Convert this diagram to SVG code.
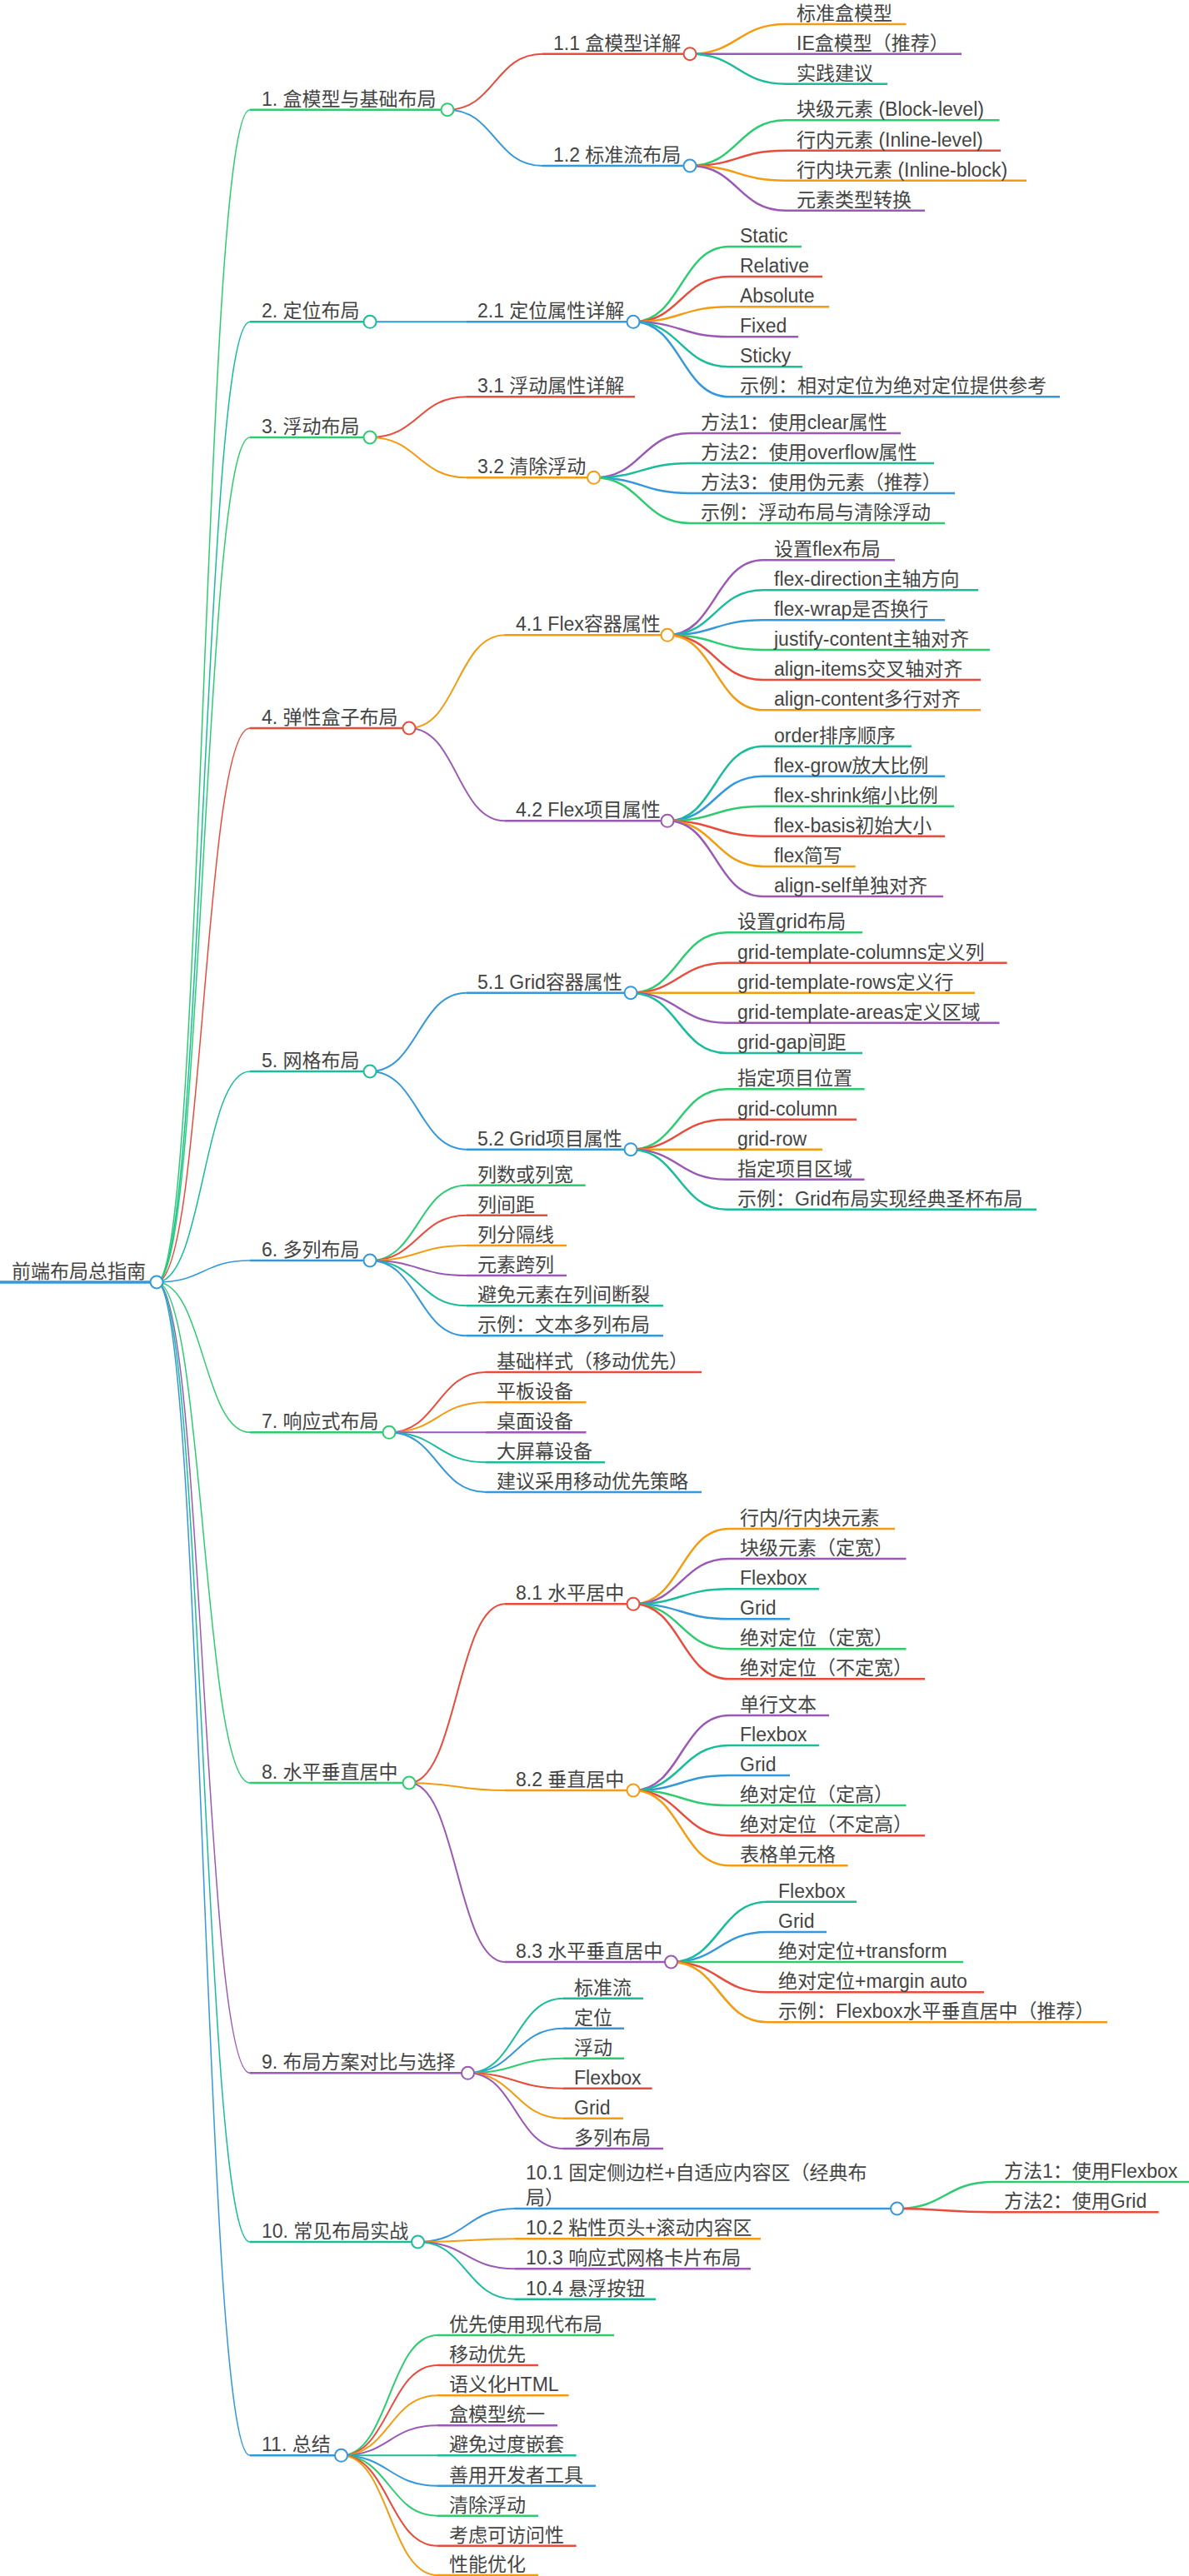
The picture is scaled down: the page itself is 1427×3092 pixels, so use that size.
<svg xmlns="http://www.w3.org/2000/svg" width="1427" height="3092" viewBox="0 0 1427 3092">
<style>
.t{font-family:"Liberation Sans","Noto Sans CJK SC",sans-serif;font-size:23px;fill:#444}
.u{fill:none;stroke-width:2.5}
.c{fill:#fff;stroke-width:2}
.k1 path{fill:none;stroke-width:1.5}
.k2 path{fill:none;stroke-width:2}
.k3 path{fill:none;stroke-width:2.5}
.g{stroke:#2ecc71}.r{stroke:#e74c3c}.b{stroke:#3498db}.o{stroke:#f39c12}.p{stroke:#9b59b6}.q{stroke:#1abc9c}
</style>
<g id="connectors">
<g class="k1">
<path class="g" d="M188,1539 C244,1539 244,131.7 300,131.7"/>
<path class="q" d="M188,1539 C244,1539 244,386.3 300,386.3"/>
<path class="g" d="M188,1539 C244,1539 244,525 300,525"/>
<path class="r" d="M188,1539 C244,1539 244,874 300,874"/>
<path class="q" d="M188,1539 C244,1539 244,1286 300,1286"/>
<path class="b" d="M188,1539 C244,1539 244,1513 300,1513"/>
<path class="g" d="M188,1539 C244,1539 244,1719.3 300,1719.3"/>
<path class="g" d="M188,1539 C244,1539 244,2140 300,2140"/>
<path class="p" d="M188,1539 C244,1539 244,2488.3 300,2488.3"/>
<path class="q" d="M188,1539 C244,1539 244,2691 300,2691"/>
<path class="b" d="M188,1539 C244,1539 244,2947.3 300,2947.3"/>
</g>
<g class="k2">
<path class="r" d="M537,131.7 C594,131.7 594,64.7 651,64.7"/>
<path class="b" d="M537,131.7 C594,131.7 594,199 651,199"/>
<path class="b" d="M444,386.3 H560"/>
<path class="r" d="M444,525 C502,525 502,476.3 560,476.3"/>
<path class="o" d="M444,525 C502,525 502,573.3 560,573.3"/>
<path class="o" d="M491,874 C548.5,874 548.5,762.3 606,762.3"/>
<path class="p" d="M491,874 C548.5,874 548.5,985.3 606,985.3"/>
<path class="b" d="M444,1286 C502,1286 502,1191.7 560,1191.7"/>
<path class="b" d="M444,1286 C502,1286 502,1379.7 560,1379.7"/>
<path class="g" d="M444,1513 C502,1513 502,1422.7 560,1422.7"/>
<path class="r" d="M444,1513 C502,1513 502,1458.7 560,1458.7"/>
<path class="o" d="M444,1513 C502,1513 502,1495 560,1495"/>
<path class="p" d="M444,1513 C502,1513 502,1531 560,1531"/>
<path class="q" d="M444,1513 C502,1513 502,1567.3 560,1567.3"/>
<path class="b" d="M444,1513 C502,1513 502,1603.3 560,1603.3"/>
<path class="r" d="M467,1719.3 C525,1719.3 525,1647 583,1647"/>
<path class="o" d="M467,1719.3 C525,1719.3 525,1683.3 583,1683.3"/>
<path class="p" d="M467,1719.3 H583"/>
<path class="q" d="M467,1719.3 C525,1719.3 525,1755.3 583,1755.3"/>
<path class="b" d="M467,1719.3 C525,1719.3 525,1791 583,1791"/>
<path class="r" d="M491,2140 C548.5,2140 548.5,1925.3 606,1925.3"/>
<path class="o" d="M491,2140 C548.5,2140 548.5,2149 606,2149"/>
<path class="p" d="M491,2140 C548.5,2140 548.5,2355 606,2355"/>
<path class="q" d="M561.5,2488.3 C618.75,2488.3 618.75,2398.7 676,2398.7"/>
<path class="b" d="M561.5,2488.3 C618.75,2488.3 618.75,2434.7 676,2434.7"/>
<path class="g" d="M561.5,2488.3 C618.75,2488.3 618.75,2470.7 676,2470.7"/>
<path class="r" d="M561.5,2488.3 C618.75,2488.3 618.75,2506.7 676,2506.7"/>
<path class="o" d="M561.5,2488.3 C618.75,2488.3 618.75,2542.7 676,2542.7"/>
<path class="p" d="M561.5,2488.3 C618.75,2488.3 618.75,2579 676,2579"/>
<path class="b" d="M501.5,2691 C559.75,2691 559.75,2651 618,2651"/>
<path class="o" d="M501.5,2691 C559.75,2691 559.75,2687.3 618,2687.3"/>
<path class="p" d="M501.5,2691 C559.75,2691 559.75,2723.3 618,2723.3"/>
<path class="q" d="M501.5,2691 C559.75,2691 559.75,2759.7 618,2759.7"/>
<path class="g" d="M409.5,2947.3 C467.25,2947.3 467.25,2803 525,2803"/>
<path class="r" d="M409.5,2947.3 C467.25,2947.3 467.25,2839 525,2839"/>
<path class="o" d="M409.5,2947.3 C467.25,2947.3 467.25,2875.3 525,2875.3"/>
<path class="p" d="M409.5,2947.3 C467.25,2947.3 467.25,2911.3 525,2911.3"/>
<path class="q" d="M409.5,2947.3 H525"/>
<path class="b" d="M409.5,2947.3 C467.25,2947.3 467.25,2983.7 525,2983.7"/>
<path class="g" d="M409.5,2947.3 C467.25,2947.3 467.25,3019.7 525,3019.7"/>
<path class="r" d="M409.5,2947.3 C467.25,2947.3 467.25,3055.7 525,3055.7"/>
<path class="o" d="M409.5,2947.3 C467.25,2947.3 467.25,3091 525,3091"/>
</g>
<g class="k3">
<path class="o" d="M828,64.7 C885.5,64.7 885.5,29 943,29"/>
<path class="p" d="M828,64.7 H943"/>
<path class="q" d="M828,64.7 C885.5,64.7 885.5,100.7 943,100.7"/>
<path class="g" d="M828,199 C885.5,199 885.5,144.3 943,144.3"/>
<path class="r" d="M828,199 C885.5,199 885.5,180.7 943,180.7"/>
<path class="o" d="M828,199 C885.5,199 885.5,216.7 943,216.7"/>
<path class="p" d="M828,199 C885.5,199 885.5,252.7 943,252.7"/>
<path class="g" d="M760,386.3 C817.5,386.3 817.5,296 875,296"/>
<path class="r" d="M760,386.3 C817.5,386.3 817.5,332 875,332"/>
<path class="o" d="M760,386.3 C817.5,386.3 817.5,368.3 875,368.3"/>
<path class="p" d="M760,386.3 C817.5,386.3 817.5,404.3 875,404.3"/>
<path class="q" d="M760,386.3 C817.5,386.3 817.5,440.3 875,440.3"/>
<path class="b" d="M760,386.3 C817.5,386.3 817.5,476.3 875,476.3"/>
<path class="p" d="M712.6,573.3 C770.3,573.3 770.3,520 828,520"/>
<path class="q" d="M712.6,573.3 C770.3,573.3 770.3,556 828,556"/>
<path class="b" d="M712.6,573.3 C770.3,573.3 770.3,592 828,592"/>
<path class="g" d="M712.6,573.3 C770.3,573.3 770.3,628 828,628"/>
<path class="p" d="M801,762.3 C858.5,762.3 858.5,672.3 916,672.3"/>
<path class="q" d="M801,762.3 C858.5,762.3 858.5,708.3 916,708.3"/>
<path class="b" d="M801,762.3 C858.5,762.3 858.5,744.3 916,744.3"/>
<path class="g" d="M801,762.3 C858.5,762.3 858.5,780 916,780"/>
<path class="r" d="M801,762.3 C858.5,762.3 858.5,816 916,816"/>
<path class="o" d="M801,762.3 C858.5,762.3 858.5,852.3 916,852.3"/>
<path class="q" d="M801,985.3 C858.5,985.3 858.5,895.7 916,895.7"/>
<path class="b" d="M801,985.3 C858.5,985.3 858.5,931.7 916,931.7"/>
<path class="g" d="M801,985.3 C858.5,985.3 858.5,967.7 916,967.7"/>
<path class="r" d="M801,985.3 C858.5,985.3 858.5,1003.7 916,1003.7"/>
<path class="o" d="M801,985.3 C858.5,985.3 858.5,1040 916,1040"/>
<path class="p" d="M801,985.3 C858.5,985.3 858.5,1076 916,1076"/>
<path class="g" d="M757,1191.7 C814.5,1191.7 814.5,1119.3 872,1119.3"/>
<path class="r" d="M757,1191.7 C814.5,1191.7 814.5,1155.7 872,1155.7"/>
<path class="o" d="M757,1191.7 H872"/>
<path class="p" d="M757,1191.7 C814.5,1191.7 814.5,1227.7 872,1227.7"/>
<path class="q" d="M757,1191.7 C814.5,1191.7 814.5,1264 872,1264"/>
<path class="g" d="M757,1379.7 C814.5,1379.7 814.5,1307.3 872,1307.3"/>
<path class="r" d="M757,1379.7 C814.5,1379.7 814.5,1343.7 872,1343.7"/>
<path class="o" d="M757,1379.7 H872"/>
<path class="p" d="M757,1379.7 C814.5,1379.7 814.5,1415.7 872,1415.7"/>
<path class="q" d="M757,1379.7 C814.5,1379.7 814.5,1451.7 872,1451.7"/>
<path class="o" d="M760,1925.3 C817.5,1925.3 817.5,1835 875,1835"/>
<path class="p" d="M760,1925.3 C817.5,1925.3 817.5,1871 875,1871"/>
<path class="q" d="M760,1925.3 C817.5,1925.3 817.5,1907.3 875,1907.3"/>
<path class="b" d="M760,1925.3 C817.5,1925.3 817.5,1943.3 875,1943.3"/>
<path class="g" d="M760,1925.3 C817.5,1925.3 817.5,1979.3 875,1979.3"/>
<path class="r" d="M760,1925.3 C817.5,1925.3 817.5,2015.3 875,2015.3"/>
<path class="p" d="M760,2149 C817.5,2149 817.5,2059 875,2059"/>
<path class="q" d="M760,2149 C817.5,2149 817.5,2095 875,2095"/>
<path class="b" d="M760,2149 C817.5,2149 817.5,2131 875,2131"/>
<path class="g" d="M760,2149 C817.5,2149 817.5,2167 875,2167"/>
<path class="r" d="M760,2149 C817.5,2149 817.5,2203.3 875,2203.3"/>
<path class="o" d="M760,2149 C817.5,2149 817.5,2239.3 875,2239.3"/>
<path class="q" d="M805.5,2355 C863.25,2355 863.25,2282.7 921,2282.7"/>
<path class="b" d="M805.5,2355 C863.25,2355 863.25,2319 921,2319"/>
<path class="g" d="M805.5,2355 H921"/>
<path class="r" d="M805.5,2355 C863.25,2355 863.25,2391.3 921,2391.3"/>
<path class="o" d="M805.5,2355 C863.25,2355 863.25,2427.3 921,2427.3"/>
<path class="g" d="M1076.6,2651 C1134.3,2651 1134.3,2619 1192,2619"/>
<path class="r" d="M1076.6,2651 C1134.3,2651 1134.3,2655.3 1192,2655.3"/>
</g>
</g>
<g id="root"><path class="u b" style="stroke-width:3.5" d="M0,1539 H188"/><circle class="c b" cx="188" cy="1539" r="7.5"/><text class="t" x="14" y="1534">前端布局总指南</text></g>
<g id="n1"><path class="u g" d="M300,131.7 H537"/><circle class="c g" cx="537" cy="131.7" r="7.5"/><text class="t" x="314" y="126.7">1. 盒模型与基础布局</text></g>
<g id="n1-1"><path class="u r" d="M651,64.7 H828"/><circle class="c r" cx="828" cy="64.7" r="7.5"/><text class="t" x="664" y="59.7">1.1 盒模型详解</text></g>
<g id="n1-1-1"><path class="u o" d="M943,29 H1087.6"/><text class="t" x="956" y="24">标准盒模型</text></g>
<g id="n1-1-2"><path class="u p" d="M943,64.7 H1154"/><text class="t" x="956" y="59.7">IE盒模型（推荐）</text></g>
<g id="n1-1-3"><path class="u q" d="M943,100.7 H1065"/><text class="t" x="956" y="95.7">实践建议</text></g>
<g id="n1-2"><path class="u b" d="M651,199 H828"/><circle class="c b" cx="828" cy="199" r="7.5"/><text class="t" x="664" y="194">1.2 标准流布局</text></g>
<g id="n1-2-1"><path class="u g" d="M943,144.3 H1199.5"/><text class="t" x="956" y="139.3">块级元素 (Block-level)</text></g>
<g id="n1-2-2"><path class="u r" d="M943,180.7 H1201"/><text class="t" x="956" y="175.7">行内元素 (Inline-level)</text></g>
<g id="n1-2-3"><path class="u o" d="M943,216.7 H1232"/><text class="t" x="956" y="211.7">行内块元素 (Inline-block)</text></g>
<g id="n1-2-4"><path class="u p" d="M943,252.7 H1110"/><text class="t" x="956" y="247.7">元素类型转换</text></g>
<g id="n2"><path class="u q" d="M300,386.3 H444"/><circle class="c q" cx="444" cy="386.3" r="7.5"/><text class="t" x="314" y="381.3">2. 定位布局</text></g>
<g id="n2-1"><path class="u b" d="M560,386.3 H760"/><circle class="c b" cx="760" cy="386.3" r="7.5"/><text class="t" x="573" y="381.3">2.1 定位属性详解</text></g>
<g id="n2-1-1"><path class="u g" d="M875,296 H962"/><text class="t" x="888" y="291">Static</text></g>
<g id="n2-1-2"><path class="u r" d="M875,332 H987"/><text class="t" x="888" y="327">Relative</text></g>
<g id="n2-1-3"><path class="u o" d="M875,368.3 H995"/><text class="t" x="888" y="363.3">Absolute</text></g>
<g id="n2-1-4"><path class="u p" d="M875,404.3 H958"/><text class="t" x="888" y="399.3">Fixed</text></g>
<g id="n2-1-5"><path class="u q" d="M875,440.3 H963"/><text class="t" x="888" y="435.3">Sticky</text></g>
<g id="n2-1-6"><path class="u b" d="M875,476.3 H1272"/><text class="t" x="888" y="471.3">示例：相对定位为绝对定位提供参考</text></g>
<g id="n3"><path class="u g" d="M300,525 H444"/><circle class="c g" cx="444" cy="525" r="7.5"/><text class="t" x="314" y="520">3. 浮动布局</text></g>
<g id="n3-1"><path class="u r" d="M560,476.3 H762"/><text class="t" x="573" y="471.3">3.1 浮动属性详解</text></g>
<g id="n3-2"><path class="u o" d="M560,573.3 H712.6"/><circle class="c o" cx="712.6" cy="573.3" r="7.5"/><text class="t" x="573" y="568.3">3.2 清除浮动</text></g>
<g id="n3-2-1"><path class="u p" d="M828,520 H1081"/><text class="t" x="841" y="515">方法1：使用clear属性</text></g>
<g id="n3-2-2"><path class="u q" d="M828,556 H1121"/><text class="t" x="841" y="551">方法2：使用overflow属性</text></g>
<g id="n3-2-3"><path class="u b" d="M828,592 H1146"/><text class="t" x="841" y="587">方法3：使用伪元素（推荐）</text></g>
<g id="n3-2-4"><path class="u g" d="M828,628 H1134"/><text class="t" x="841" y="623">示例：浮动布局与清除浮动</text></g>
<g id="n4"><path class="u r" d="M300,874 H491"/><circle class="c r" cx="491" cy="874" r="7.5"/><text class="t" x="314" y="869">4. 弹性盒子布局</text></g>
<g id="n4-1"><path class="u o" d="M606,762.3 H801"/><circle class="c o" cx="801" cy="762.3" r="7.5"/><text class="t" x="619" y="757.3">4.1 Flex容器属性</text></g>
<g id="n4-1-1"><path class="u p" d="M916,672.3 H1074"/><text class="t" x="929" y="667.3">设置flex布局</text></g>
<g id="n4-1-2"><path class="u q" d="M916,708.3 H1174"/><text class="t" x="929" y="703.3">flex-direction主轴方向</text></g>
<g id="n4-1-3"><path class="u b" d="M916,744.3 H1134"/><text class="t" x="929" y="739.3">flex-wrap是否换行</text></g>
<g id="n4-1-4"><path class="u g" d="M916,780 H1188"/><text class="t" x="929" y="775">justify-content主轴对齐</text></g>
<g id="n4-1-5"><path class="u r" d="M916,816 H1177"/><text class="t" x="929" y="811">align-items交叉轴对齐</text></g>
<g id="n4-1-6"><path class="u o" d="M916,852.3 H1177"/><text class="t" x="929" y="847.3">align-content多行对齐</text></g>
<g id="n4-2"><path class="u p" d="M606,985.3 H801"/><circle class="c p" cx="801" cy="985.3" r="7.5"/><text class="t" x="619" y="980.3">4.2 Flex项目属性</text></g>
<g id="n4-2-1"><path class="u q" d="M916,895.7 H1094"/><text class="t" x="929" y="890.7">order排序顺序</text></g>
<g id="n4-2-2"><path class="u b" d="M916,931.7 H1134"/><text class="t" x="929" y="926.7">flex-grow放大比例</text></g>
<g id="n4-2-3"><path class="u g" d="M916,967.7 H1145"/><text class="t" x="929" y="962.7">flex-shrink缩小比例</text></g>
<g id="n4-2-4"><path class="u r" d="M916,1003.7 H1134"/><text class="t" x="929" y="998.7">flex-basis初始大小</text></g>
<g id="n4-2-5"><path class="u o" d="M916,1040 H1026.6"/><text class="t" x="929" y="1035">flex简写</text></g>
<g id="n4-2-6"><path class="u p" d="M916,1076 H1132"/><text class="t" x="929" y="1071">align-self单独对齐</text></g>
<g id="n5"><path class="u q" d="M300,1286 H444"/><circle class="c q" cx="444" cy="1286" r="7.5"/><text class="t" x="314" y="1281">5. 网格布局</text></g>
<g id="n5-1"><path class="u b" d="M560,1191.7 H757"/><circle class="c b" cx="757" cy="1191.7" r="7.5"/><text class="t" x="573" y="1186.7">5.1 Grid容器属性</text></g>
<g id="n5-1-1"><path class="u g" d="M872,1119.3 H1035"/><text class="t" x="885" y="1114.3">设置grid布局</text></g>
<g id="n5-1-2"><path class="u r" d="M872,1155.7 H1208.6"/><text class="t" x="885" y="1150.7">grid-template-columns定义列</text></g>
<g id="n5-1-3"><path class="u o" d="M872,1191.7 H1170"/><text class="t" x="885" y="1186.7">grid-template-rows定义行</text></g>
<g id="n5-1-4"><path class="u p" d="M872,1227.7 H1199.5"/><text class="t" x="885" y="1222.7">grid-template-areas定义区域</text></g>
<g id="n5-1-5"><path class="u q" d="M872,1264 H1035"/><text class="t" x="885" y="1259">grid-gap间距</text></g>
<g id="n5-2"><path class="u b" d="M560,1379.7 H757"/><circle class="c b" cx="757" cy="1379.7" r="7.5"/><text class="t" x="573" y="1374.7">5.2 Grid项目属性</text></g>
<g id="n5-2-1"><path class="u g" d="M872,1307.3 H1037.5"/><text class="t" x="885" y="1302.3">指定项目位置</text></g>
<g id="n5-2-2"><path class="u r" d="M872,1343.7 H1028"/><text class="t" x="885" y="1338.7">grid-column</text></g>
<g id="n5-2-3"><path class="u o" d="M872,1379.7 H987"/><text class="t" x="885" y="1374.7">grid-row</text></g>
<g id="n5-2-4"><path class="u p" d="M872,1415.7 H1037.5"/><text class="t" x="885" y="1410.7">指定项目区域</text></g>
<g id="n5-2-5"><path class="u q" d="M872,1451.7 H1244"/><text class="t" x="885" y="1446.7">示例：Grid布局实现经典圣杯布局</text></g>
<g id="n6"><path class="u b" d="M300,1513 H444"/><circle class="c b" cx="444" cy="1513" r="7.5"/><text class="t" x="314" y="1508">6. 多列布局</text></g>
<g id="n6-1"><path class="u g" d="M560,1422.7 H702.6"/><text class="t" x="573" y="1417.7">列数或列宽</text></g>
<g id="n6-2"><path class="u r" d="M560,1458.7 H657"/><text class="t" x="573" y="1453.7">列间距</text></g>
<g id="n6-3"><path class="u o" d="M560,1495 H680"/><text class="t" x="573" y="1490">列分隔线</text></g>
<g id="n6-4"><path class="u p" d="M560,1531 H680"/><text class="t" x="573" y="1526">元素跨列</text></g>
<g id="n6-5"><path class="u q" d="M560,1567.3 H796"/><text class="t" x="573" y="1562.3">避免元素在列间断裂</text></g>
<g id="n6-6"><path class="u b" d="M560,1603.3 H796"/><text class="t" x="573" y="1598.3">示例：文本多列布局</text></g>
<g id="n7"><path class="u g" d="M300,1719.3 H467"/><circle class="c g" cx="467" cy="1719.3" r="7.5"/><text class="t" x="314" y="1714.3">7. 响应式布局</text></g>
<g id="n7-1"><path class="u r" d="M583,1647 H842"/><text class="t" x="596" y="1642">基础样式（移动优先）</text></g>
<g id="n7-2"><path class="u o" d="M583,1683.3 H703.5"/><text class="t" x="596" y="1678.3">平板设备</text></g>
<g id="n7-3"><path class="u p" d="M583,1719.3 H703.5"/><text class="t" x="596" y="1714.3">桌面设备</text></g>
<g id="n7-4"><path class="u q" d="M583,1755.3 H726"/><text class="t" x="596" y="1750.3">大屏幕设备</text></g>
<g id="n7-5"><path class="u b" d="M583,1791 H842"/><text class="t" x="596" y="1786">建议采用移动优先策略</text></g>
<g id="n8"><path class="u g" d="M300,2140 H491"/><circle class="c g" cx="491" cy="2140" r="7.5"/><text class="t" x="314" y="2135">8. 水平垂直居中</text></g>
<g id="n8-1"><path class="u r" d="M606,1925.3 H760"/><circle class="c r" cx="760" cy="1925.3" r="7.5"/><text class="t" x="619" y="1920.3">8.1 水平居中</text></g>
<g id="n8-1-1"><path class="u o" d="M875,1835 H1074"/><text class="t" x="888" y="1830">行内/行内块元素</text></g>
<g id="n8-1-2"><path class="u p" d="M875,1871 H1087.5"/><text class="t" x="888" y="1866">块级元素（定宽）</text></g>
<g id="n8-1-3"><path class="u q" d="M875,1907.3 H983"/><text class="t" x="888" y="1902.3">Flexbox</text></g>
<g id="n8-1-4"><path class="u b" d="M875,1943.3 H948"/><text class="t" x="888" y="1938.3">Grid</text></g>
<g id="n8-1-5"><path class="u g" d="M875,1979.3 H1087.5"/><text class="t" x="888" y="1974.3">绝对定位（定宽）</text></g>
<g id="n8-1-6"><path class="u r" d="M875,2015.3 H1110"/><text class="t" x="888" y="2010.3">绝对定位（不定宽）</text></g>
<g id="n8-2"><path class="u o" d="M606,2149 H760"/><circle class="c o" cx="760" cy="2149" r="7.5"/><text class="t" x="619" y="2144">8.2 垂直居中</text></g>
<g id="n8-2-1"><path class="u p" d="M875,2059 H995"/><text class="t" x="888" y="2054">单行文本</text></g>
<g id="n8-2-2"><path class="u q" d="M875,2095 H983"/><text class="t" x="888" y="2090">Flexbox</text></g>
<g id="n8-2-3"><path class="u b" d="M875,2131 H948"/><text class="t" x="888" y="2126">Grid</text></g>
<g id="n8-2-4"><path class="u g" d="M875,2167 H1087.5"/><text class="t" x="888" y="2162">绝对定位（定高）</text></g>
<g id="n8-2-5"><path class="u r" d="M875,2203.3 H1110"/><text class="t" x="888" y="2198.3">绝对定位（不定高）</text></g>
<g id="n8-2-6"><path class="u o" d="M875,2239.3 H1017.5"/><text class="t" x="888" y="2234.3">表格单元格</text></g>
<g id="n8-3"><path class="u p" d="M606,2355 H805.5"/><circle class="c p" cx="805.5" cy="2355" r="7.5"/><text class="t" x="619" y="2350">8.3 水平垂直居中</text></g>
<g id="n8-3-1"><path class="u q" d="M921,2282.7 H1028"/><text class="t" x="934" y="2277.7">Flexbox</text></g>
<g id="n8-3-2"><path class="u b" d="M921,2319 H992"/><text class="t" x="934" y="2314">Grid</text></g>
<g id="n8-3-3"><path class="u g" d="M921,2355 H1156"/><text class="t" x="934" y="2350">绝对定位+transform</text></g>
<g id="n8-3-4"><path class="u r" d="M921,2391.3 H1181"/><text class="t" x="934" y="2386.3">绝对定位+margin auto</text></g>
<g id="n8-3-5"><path class="u o" d="M921,2427.3 H1329"/><text class="t" x="934" y="2422.3">示例：Flexbox水平垂直居中（推荐）</text></g>
<g id="n9"><path class="u p" d="M300,2488.3 H561.5"/><circle class="c p" cx="561.5" cy="2488.3" r="7.5"/><text class="t" x="314" y="2483.3">9. 布局方案对比与选择</text></g>
<g id="n9-1"><path class="u q" d="M676,2398.7 H772"/><text class="t" x="689" y="2393.7">标准流</text></g>
<g id="n9-2"><path class="u b" d="M676,2434.7 H749"/><text class="t" x="689" y="2429.7">定位</text></g>
<g id="n9-3"><path class="u g" d="M676,2470.7 H749"/><text class="t" x="689" y="2465.7">浮动</text></g>
<g id="n9-4"><path class="u r" d="M676,2506.7 H782.6"/><text class="t" x="689" y="2501.7">Flexbox</text></g>
<g id="n9-5"><path class="u o" d="M676,2542.7 H748"/><text class="t" x="689" y="2537.7">Grid</text></g>
<g id="n9-6"><path class="u p" d="M676,2579 H796"/><text class="t" x="689" y="2574">多列布局</text></g>
<g id="n10"><path class="u q" d="M300,2691 H501.5"/><circle class="c q" cx="501.5" cy="2691" r="7.5"/><text class="t" x="314" y="2686">10. 常见布局实战</text></g>
<g id="n10-1"><path class="u b" d="M618,2651 H1076.6"/><circle class="c b" cx="1076.6" cy="2651" r="7.5"/><text class="t" x="631" y="2616">10.1 固定侧边栏+自适应内容区（经典布<tspan x="631" y="2646">局）</tspan></text></g>
<g id="n10-1-1"><path class="u g" d="M1192,2619 H1427"/><text class="t" x="1205" y="2614">方法1：使用Flexbox</text></g>
<g id="n10-1-2"><path class="u r" d="M1192,2655.3 H1390.6"/><text class="t" x="1205" y="2650.3">方法2：使用Grid</text></g>
<g id="n10-2"><path class="u o" d="M618,2687.3 H913"/><text class="t" x="631" y="2682.3">10.2 粘性页头+滚动内容区</text></g>
<g id="n10-3"><path class="u p" d="M618,2723.3 H901"/><text class="t" x="631" y="2718.3">10.3 响应式网格卡片布局</text></g>
<g id="n10-4"><path class="u q" d="M618,2759.7 H787"/><text class="t" x="631" y="2754.7">10.4 悬浮按钮</text></g>
<g id="n11"><path class="u b" d="M300,2947.3 H409.5"/><circle class="c b" cx="409.5" cy="2947.3" r="7.5"/><text class="t" x="314" y="2942.3">11. 总结</text></g>
<g id="n11-1"><path class="u g" d="M525,2803 H737"/><text class="t" x="539" y="2798">优先使用现代布局</text></g>
<g id="n11-2"><path class="u r" d="M525,2839 H646"/><text class="t" x="539" y="2834">移动优先</text></g>
<g id="n11-3"><path class="u o" d="M525,2875.3 H682.5"/><text class="t" x="539" y="2870.3">语义化HTML</text></g>
<g id="n11-4"><path class="u p" d="M525,2911.3 H669"/><text class="t" x="539" y="2906.3">盒模型统一</text></g>
<g id="n11-5"><path class="u q" d="M525,2947.3 H691.6"/><text class="t" x="539" y="2942.3">避免过度嵌套</text></g>
<g id="n11-6"><path class="u b" d="M525,2983.7 H715"/><text class="t" x="539" y="2978.7">善用开发者工具</text></g>
<g id="n11-7"><path class="u g" d="M525,3019.7 H646"/><text class="t" x="539" y="3014.7">清除浮动</text></g>
<g id="n11-8"><path class="u r" d="M525,3055.7 H691.6"/><text class="t" x="539" y="3050.7">考虑可访问性</text></g>
<g id="n11-9"><path class="u o" d="M525,3091 H646"/><text class="t" x="539" y="3086">性能优化</text></g>
</svg>
